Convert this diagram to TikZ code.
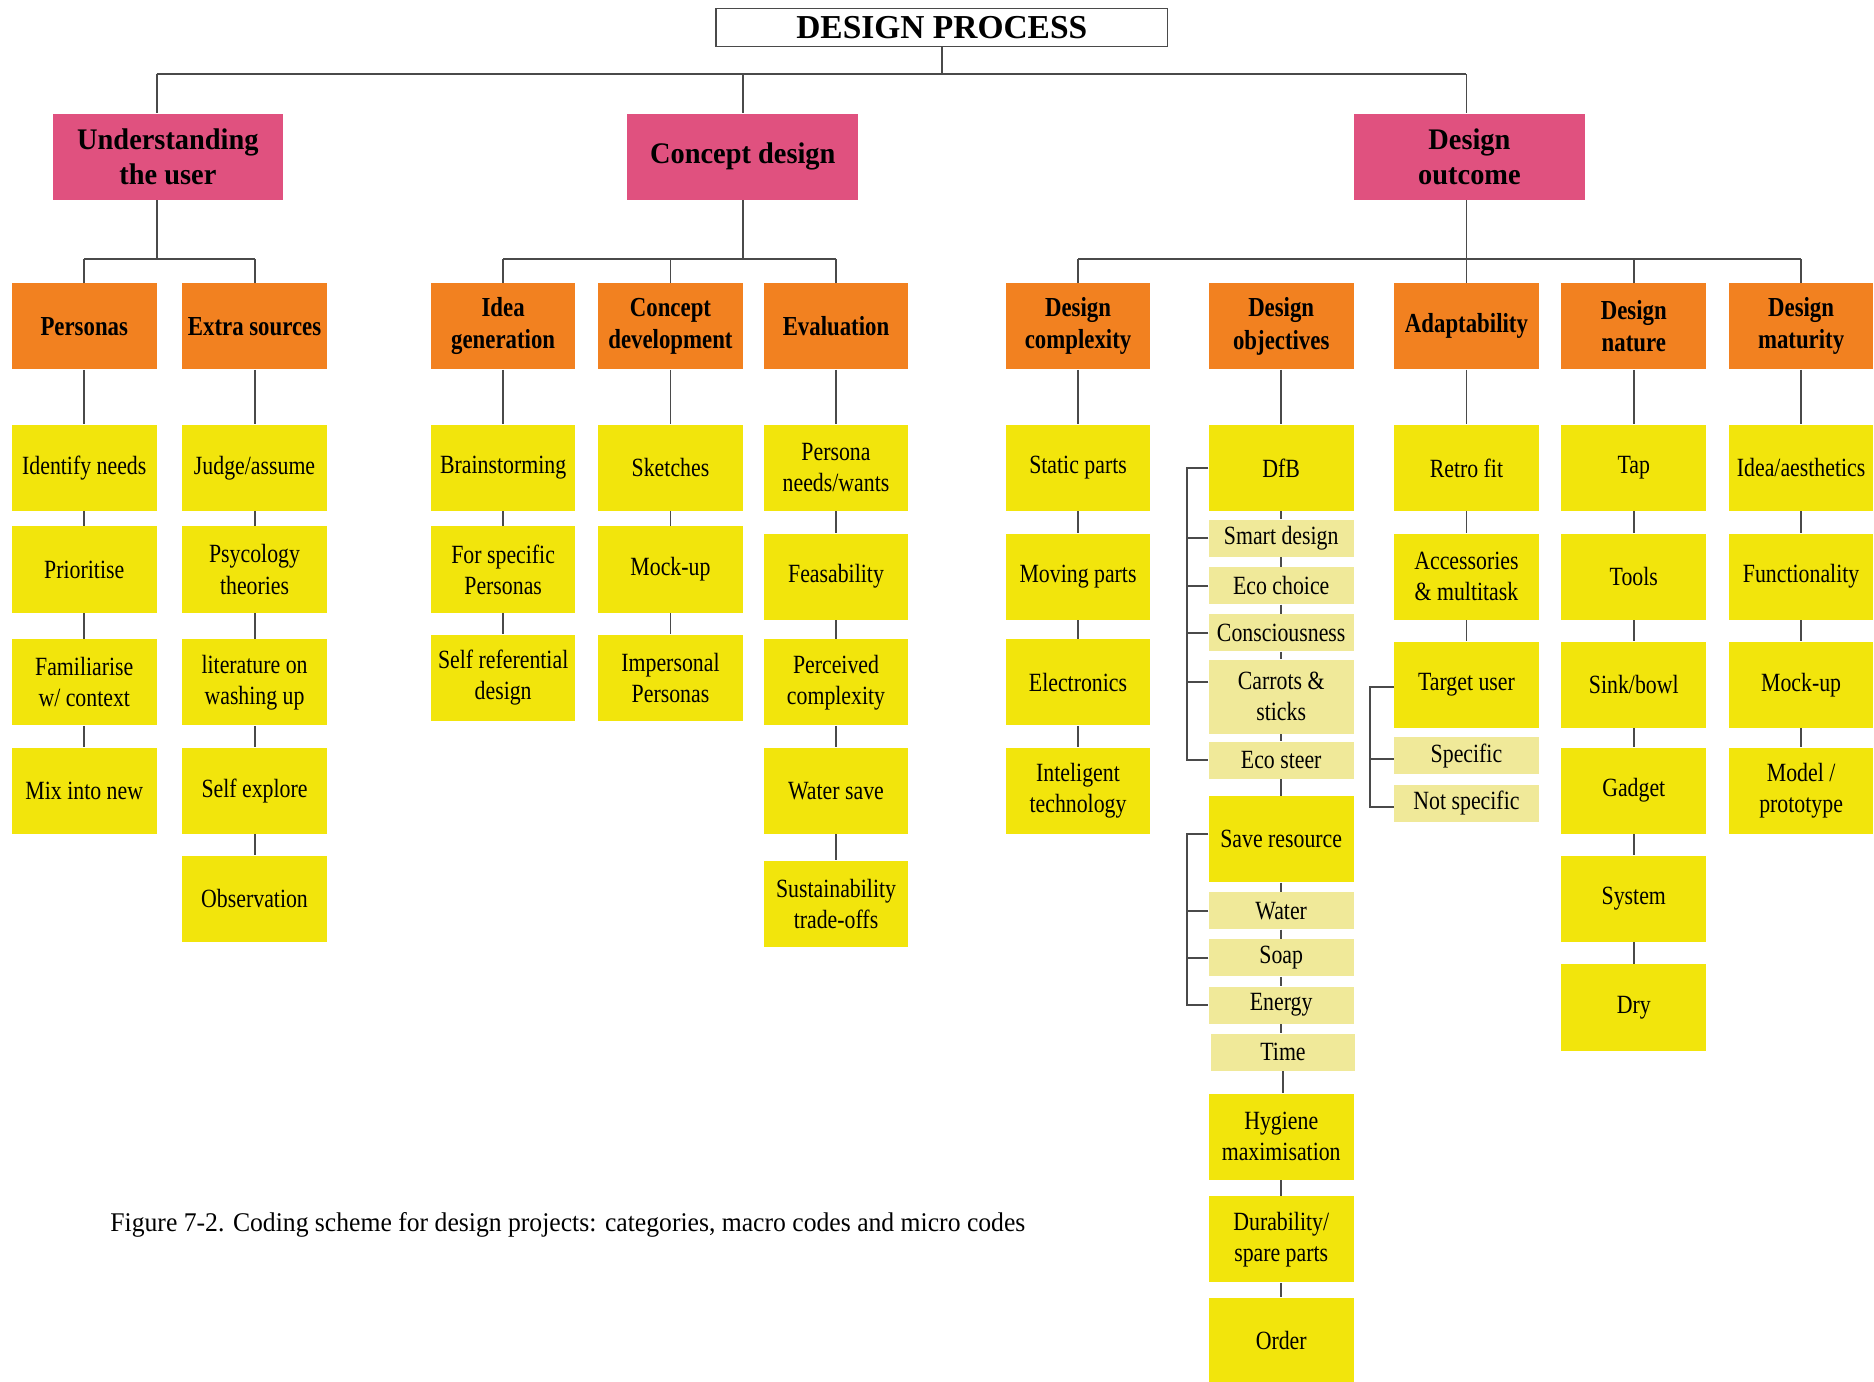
\documentclass[tikz,border=0pt]{standalone}
\usepackage{fontspec}
\setmainfont{Liberation Serif}
\newfontfamily\boxfont{Liberation Serif}[FakeStretch=0.83]
\newfontfamily\headfont{Liberation Serif}[FakeStretch=0.95]
\usetikzlibrary{calc}

\definecolor{catpink}{HTML}{E0517F}
\definecolor{macroorange}{HTML}{F28120}
\definecolor{microyellow}{HTML}{F2E50C}
\definecolor{sublight}{HTML}{F0E999}
\definecolor{linegray}{HTML}{4A4A4A}

\tikzset{
  box/.style={rectangle, inner sep=0pt, align=center, text=black, minimum width=60.5pt},
  titlebox/.style={rectangle, draw=linegray, line width=0.6pt, fill=white, inner sep=0pt,
    minimum width=189pt, minimum height=16pt, font=\bfseries\fontsize{14}{16}\selectfont},
  cat/.style={box, fill=catpink, minimum width=96.5pt, minimum height=36pt,
    font=\headfont\bfseries\fontsize{12.5}{14.5}\selectfont},
  macro/.style={box, fill=macroorange, minimum height=36pt,
    font=\boxfont\bfseries\fontsize{11.5}{13.5}\selectfont},
  micro/.style={box, fill=microyellow, minimum height=36pt,
    font=\boxfont\fontsize{11}{13}\selectfont},
  sub/.style={box, fill=sublight, minimum height=15.5pt,
    font=\boxfont\fontsize{11}{13}\selectfont},
  conn/.style={draw=linegray, line width=0.8pt},
}

\begin{document}
\begin{tikzpicture}[x=0.5pt,y=-0.5pt]
\fill[white] (0,0) rectangle (1568,1156);
\useasboundingbox (0,0) rectangle (1568,1156);

% root
\node[titlebox] (title) at (788,23) {DESIGN PROCESS};

% categories
\node[cat] (U) at (140.5,131) {Understanding\\the user};
\node[cat] (C) at (621.5,131) {Concept design};
\node[cat] (D) at (1229.5,131) {Design\\outcome};

% macro codes
\node[macro] (pers)  at (70.5,273)  {Personas};
\node[macro] (extra) at (213,273)   {Extra sources};
\node[macro] (idea)  at (421,273)   {Idea\\generation};
\node[macro] (cdev)  at (561,273)   {Concept\\development};
\node[macro] (eval)  at (699.5,273) {Evaluation};
\node[macro] (dcom)  at (902,273)   {Design\\complexity};
\node[macro] (dobj)  at (1072,273)  {Design\\objectives};
\node[macro] (adap)  at (1227,273)  {Adaptability};
\node[macro] (dnat)  at (1367,273)  {Design\\nature};
\node[macro] (dmat)  at (1507,273)  {Design\\maturity};

% micro codes: personas
\node[micro] (p1) at (70.5,391.5) {Identify needs};
\node[micro] (p2) at (70.5,476.5) {Prioritise};
\node[micro] (p3) at (70.5,571)   {Familiarise\\w/ context};
\node[micro] (p4) at (70.5,661.5) {Mix into new};
% extra sources
\node[micro] (e1) at (213,391.5) {Judge/assume};
\node[micro] (e2) at (213,476.5) {Psycology\\theories};
\node[micro] (e3) at (213,571)   {literature on\\washing up};
\node[micro] (e4) at (213,661.5) {Self explore};
\node[micro] (e5) at (213,752)   {Observation};
% idea generation
\node[micro] (i1) at (421,391.5) {Brainstorming};
\node[micro] (i2) at (421,476.5) {For specific\\Personas};
\node[micro] (i3) at (421,567)   {Self referential\\design};
% concept development
\node[micro] (c1) at (561,391.5) {Sketches};
\node[micro] (c2) at (561,476.5) {Mock-up};
\node[micro] (c3) at (561,567)   {Impersonal\\Personas};
% evaluation
\node[micro] (v1) at (699.5,391.5) {Persona\\needs/wants};
\node[micro] (v2) at (699.5,482.5) {Feasability};
\node[micro] (v3) at (699.5,571)   {Perceived\\complexity};
\node[micro] (v4) at (699.5,661.5) {Water save};
\node[micro] (v5) at (699.5,756)   {Sustainability\\trade-offs};
% design complexity
\node[micro] (m1) at (902,391.5) {Static parts};
\node[micro] (m2) at (902,482.5) {Moving parts};
\node[micro] (m3) at (902,571)   {Electronics};
\node[micro] (m4) at (902,661.5) {Inteligent\\technology};
% design objectives
\node[micro] (o1)  at (1072,391.5) {DfB};
\node[sub]   (o2)  at (1072,450.5) {Smart design};
\node[sub]   (o3)  at (1072,490)   {Eco choice};
\node[sub]   (o4)  at (1072,529.5) {Consciousness};
\node[sub, minimum height=31pt] (o5) at (1072,583) {Carrots \&\\sticks};
\node[sub]   (o6)  at (1072,636)   {Eco steer};
\node[micro] (o7)  at (1072,702)   {Save resource};
\node[sub]   (o8)  at (1072,762)   {Water};
\node[sub]   (o9)  at (1072,801.5) {Soap};
\node[sub]   (o10) at (1072,841)   {Energy};
\node[sub]   (o11) at (1073.5,880.5) {Time};
\node[micro] (o12) at (1072,951)   {Hygiene\\maximisation};
\node[micro] (o13) at (1072,1037)  {Durability/\\spare parts};
\node[micro] (o14) at (1072,1122)  {Order};
% adaptability
\node[micro] (a1) at (1227,391.5) {Retro fit};
\node[micro] (a2) at (1227,482.5) {Accessories\\\& multitask};
\node[micro] (a3) at (1227,573)   {Target user};
\node[sub]   (a4) at (1227,632.5) {Specific};
\node[sub]   (a5) at (1227,672)   {Not specific};
% design nature
\node[micro] (n1) at (1367,391.5) {Tap};
\node[micro] (n2) at (1367,482.5) {Tools};
\node[micro] (n3) at (1367,573)   {Sink/bowl};
\node[micro] (n4) at (1367,661.5) {Gadget};
\node[micro] (n5) at (1367,752)   {System};
\node[micro] (n6) at (1367,843)   {Dry};
% design maturity
\node[micro] (t1) at (1507,391.5) {Idea/aesthetics};
\node[micro] (t2) at (1507,482.5) {Functionality};
\node[micro] (t3) at (1507,573)   {Mock-up};
\node[micro] (t4) at (1507,661.5) {Model /\\prototype};

% caption
\node[anchor=west, inner sep=0pt, font=\headfont\fontsize{11.3}{13}\selectfont] (caption) at (92,1025)
  {Figure 7-2. Coding scheme for design projects: categories, macro codes and micro codes};

% root to categories
\coordinate (busU) at (131,62);
\coordinate (busD) at (1227,62);
\draw[conn] (title.south) -- (title.south |- busU);
\draw[conn] (busU) -- (busD);
\draw[conn] (busU) -- (busU |- U.north);
\draw[conn] (C.north |- busU) -- (C.north);
\draw[conn] (busD) -- (busD |- D.north);

% categories to macro codes
\coordinate (u2) at (131,217);
\draw[conn] (u2 |- U.south) -- (u2);
\draw[conn] (pers.north |- u2) -- (extra.north |- u2);
\foreach \n in {pers,extra} \draw[conn] (\n.north |- u2) -- (\n.north);

\draw[conn] (C.south) -- (C.south |- u2);
\draw[conn] (idea.north |- u2) -- (eval.north |- u2);
\foreach \n in {idea,cdev,eval} \draw[conn] (\n.north |- u2) -- (\n.north);

\draw[conn] (adap.north |- D.south) -- (adap.north);
\draw[conn] (dcom.north |- u2) -- (dmat.north |- u2);
\foreach \n in {dcom,dnat,dmat} \draw[conn] (\n.north |- u2) -- (\n.north);

% macro codes to micro codes
\foreach \a/\b in {pers/p1,p1/p2,p2/p3,p3/p4,
                   extra/e1,e1/e2,e2/e3,e3/e4,e4/e5,
                   idea/i1,i1/i2,i2/i3,
                   cdev/c1,c1/c2,c2/c3,
                   eval/v1,v1/v2,v2/v3,v3/v4,v4/v5,
                   dcom/m1,m1/m2,m2/m3,m3/m4,
                   dobj/o1,o1/o2,o2/o3,o3/o4,o4/o5,o5/o6,o6/o7,o7/o8,o8/o9,o9/o10,o10/o11,
                   o11/o12,o12/o13,o13/o14,
                   adap/a1,a1/a2,a2/a3,
                   dnat/n1,n1/n2,n2/n3,n3/n4,n4/n5,n5/n6,
                   dmat/t1,t1/t2,t2/t3,t3/t4}
  \draw[conn] (\a.south) -- (\a.south |- \b.north);

% brackets grouping sub-codes
\draw[conn] (o1.west) -- ++(-18,0) |- (o6.west);
\foreach \n in {o2,o3,o4} \draw[conn] (\n.west) -- ++(-18,0);
\draw[conn] ($(o5.west)+(0,-12)$) -- ++(-18,0);
\draw[conn] ($(o7.west)+(0,-4)$) -- ++(-18,0) |- (o10.west);
\foreach \n in {o8,o9} \draw[conn] (\n.west) -- ++(-18,0);
\draw[conn] ($(a3.west)+(0,2)$) -- ++(-19.5,0) |- ($(a5.west)+(0,3)$);
\draw[conn] ($(a4.west)+(0,2.5)$) -- ++(-19.5,0);
\end{tikzpicture}
\end{document}
